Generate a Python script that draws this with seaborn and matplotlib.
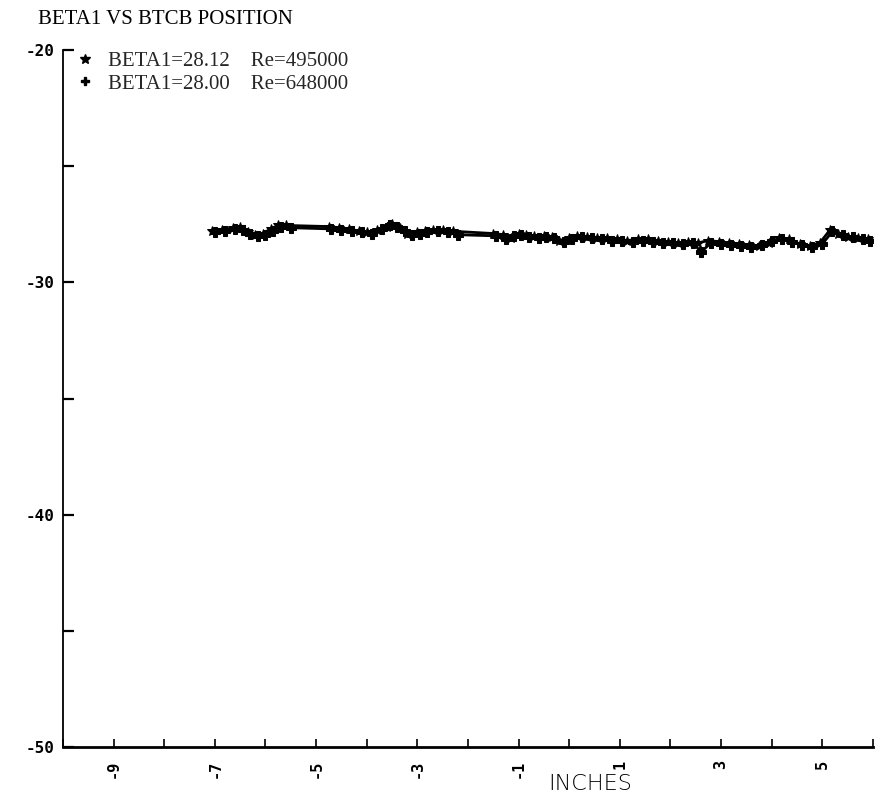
import matplotlib
matplotlib.use("Agg")
import matplotlib.pyplot as plt
from matplotlib.lines import Line2D
from matplotlib.ticker import MultipleLocator
import seaborn as sns
import pandas as pd

# ---- data ----
x_a = [-7.05, -6.85, -6.65, -6.5, -6.35, -6.2, -6.05, -5.9, -5.75, -5.6,
       -4.75, -4.55, -4.35, -4.15, -4.0, -3.8, -3.6, -3.5, -3.35, -3.2,
       -3.0, -2.85, -2.7, -2.5, -2.3, -1.5, -1.3, -1.15, -1.0, -0.85,
       -0.7, -0.5, -0.35, -0.2, 0.0, 0.15, 0.35, 0.55, 0.75, 0.95,
       1.15, 1.35, 1.55, 1.75, 1.95, 2.15, 2.35, 2.55, 2.75, 2.95,
       3.15, 3.35, 3.55, 3.75, 3.95, 4.15, 4.35, 4.55, 4.75, 4.95,
       5.15, 5.3, 5.5, 5.7, 5.9]
y_a = [-27.8, -27.75, -27.65, -27.6, -27.85, -27.95, -27.9, -27.7, -27.55, -27.55,
       -27.6, -27.65, -27.7, -27.8, -27.85, -27.75, -27.6, -27.5, -27.65, -27.9,
       -27.85, -27.8, -27.75, -27.75, -27.8, -27.9, -27.95, -28.1, -27.9, -27.95,
       -28.0, -28.0, -28.05, -28.2, -28.1, -28.0, -28.05, -28.1, -28.1, -28.15,
       -28.2, -28.15, -28.15, -28.2, -28.25, -28.3, -28.25, -28.3, -28.2, -28.25,
       -28.3, -28.35, -28.4, -28.45, -28.3, -28.1, -28.15, -28.35, -28.45, -28.3,
       -27.75, -27.9, -28.05, -28.1, -28.15]

x_b = [-7.0, -6.8, -6.6, -6.45, -6.3, -6.15, -6.0, -5.85, -5.7, -5.5,
       -4.7, -4.5, -4.3, -4.1, -3.9, -3.7, -3.55, -3.4, -3.25, -3.1,
       -2.95, -2.8, -2.6, -2.4, -2.2, -1.45, -1.25, -1.1, -0.95, -0.8,
       -0.6, -0.45, -0.3, -0.1, 0.05, 0.25, 0.45, 0.65, 0.85, 1.05,
       1.25, 1.45, 1.65, 1.85, 2.05, 2.25, 2.45, 2.6, 2.8, 3.0,
       3.2, 3.4, 3.6, 3.8, 4.0, 4.2, 4.4, 4.6, 4.8, 5.0,
       5.2, 5.4, 5.6, 5.8, 5.95]
y_b = [-27.85, -27.8, -27.7, -27.75, -27.9, -28.0, -27.95, -27.8, -27.6, -27.65,
       -27.7, -27.75, -27.8, -27.85, -27.9, -27.7, -27.55, -27.6, -27.8, -27.95,
       -27.9, -27.85, -27.8, -27.85, -27.95, -28.0, -28.15, -28.0, -27.95, -28.05,
       -28.1, -28.05, -28.1, -28.25, -28.15, -28.05, -28.1, -28.15, -28.2, -28.2,
       -28.25, -28.2, -28.25, -28.3, -28.3, -28.35, -28.3, -28.7, -28.3, -28.35,
       -28.4, -28.45, -28.5, -28.4, -28.2, -28.15, -28.25, -28.4, -28.5, -28.35,
       -27.8, -27.95, -28.05, -28.15, -28.2]

series_labels = ["BETA1=28.12    Re=495000", "BETA1=28.00    Re=648000"]
title = "BETA1 VS BTCB POSITION"
x_label = "INCHES"
x_ticks_labeled = [-9, -7, -5, -3, -1, 1, 3, 5]
y_ticks_labeled = [-20, -30, -40, -50]

df = pd.DataFrame({
    "x": x_a + x_b,
    "y": y_a + y_b,
    "series": [series_labels[0]] * len(x_a) + [series_labels[1]] * len(x_b),
})

sns.set_style("ticks")
plt.rcParams["font.family"] = ["DejaVu Sans"]

fig = plt.figure(figsize=(8.78, 7.93), dpi=100)
ax = fig.add_axes([63 / 878, 1 - 747 / 793, 810 / 878, 697 / 793])

sns.lineplot(data=df, x="x", y="y", hue="series", style="series",
             markers={series_labels[0]: "*", series_labels[1]: "P"},
             dashes=False, palette=["black", "black"], sort=False,
             estimator=None, legend=False, ax=ax, linewidth=2.0,
             markersize=7, markeredgecolor="black")

ax.set_xlim(-10, 6)
ax.set_ylim(-50, -20)

ax.set_xticks(list(range(-10, 7)))
ax.set_xticklabels([str(v) if v in x_ticks_labeled else "" for v in range(-10, 7)],
                   rotation=90, family="DejaVu Sans Mono", fontweight="bold",
                   fontsize=11)
ax.set_yticks(y_ticks_labeled)
ax.set_yticklabels([str(v) for v in y_ticks_labeled], family="DejaVu Sans Mono",
                   fontweight="bold", fontsize=11.5)
ax.yaxis.set_minor_locator(MultipleLocator(5))
ax.tick_params(axis="x", direction="in", length=6, width=1.2, pad=9, colors="black")
ax.tick_params(axis="y", which="both", direction="in", length=8, width=1.6, pad=6,
               colors="black")

for s in ["top", "right"]:
    ax.spines[s].set_visible(False)
ax.spines["left"].set_linewidth(1.3)
ax.spines["bottom"].set_linewidth(2.0)
ax.spines["left"].set_color("black")
ax.spines["bottom"].set_color("black")

ax.set_xlabel(x_label, fontsize=16, fontweight="light", color="black", va="top")
ax.xaxis.set_label_coords((590 - 63) / 810, (747 - 774) / 697, transform=ax.transAxes)
ax.set_ylabel("")

fig.text(38 / 878, 1 - 20 / 793, title, family="Liberation Serif", fontsize=15,
         ha="left", va="center", color="black")

handles = [Line2D([], [], color="black", marker="*", linestyle="none", markersize=7),
           Line2D([], [], color="black", marker="P", linestyle="none", markersize=6)]
leg = fig.legend(handles, series_labels, loc="upper left",
                 bbox_to_anchor=(62 / 878, 1 - 41 / 793), frameon=False,
                 prop={"family": "Liberation Serif", "size": 15},
                 handlelength=1.2, handletextpad=0.5, labelspacing=0.15,
                 borderpad=0)

fig.savefig("out.png", dpi=100, facecolor="white")
